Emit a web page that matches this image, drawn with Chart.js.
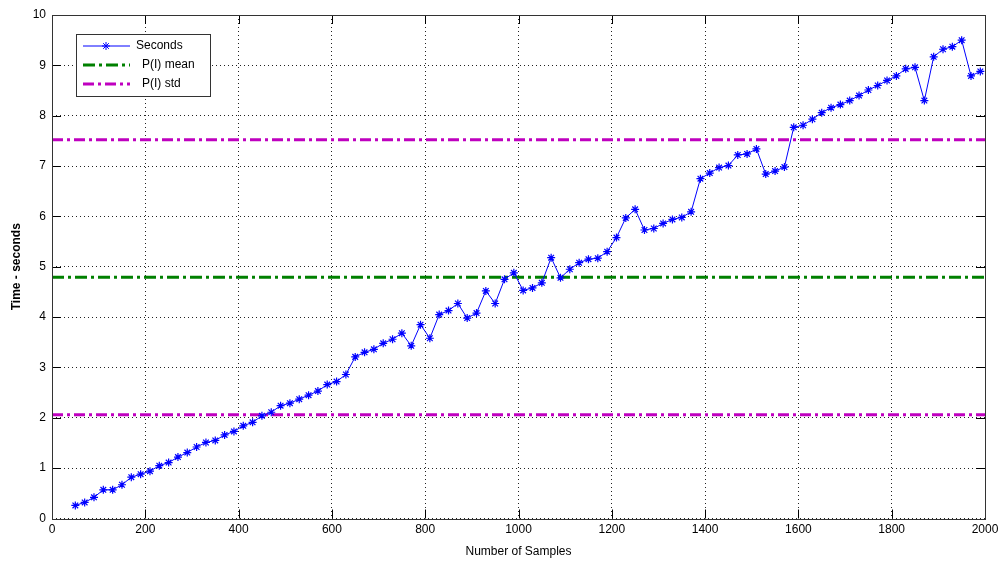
<!DOCTYPE html>
<html>
<head>
<meta charset="utf-8">
<title>Time vs number of samples</title>
<script src="https://cdn.jsdelivr.net/npm/chart.js@4.4.1/dist/chart.umd.min.js"></script>
<style>
  html, body { margin: 0; padding: 0; background: #fff; }
  #wrap { width: 1003px; height: 563px; }
</style>
</head>
<body>
<div id="wrap"><canvas id="timeChart" width="1003" height="563"></canvas></div>
<script>
// sample counts (x) and measured run time in seconds (y)
const sampleCounts = [
    50, 70, 90, 110, 130, 150, 170, 190, 210, 230,
    250, 270, 290, 310, 330, 350, 370, 390, 410, 430,
    450, 470, 490, 510, 530, 550, 570, 590, 610, 630,
    650, 670, 690, 710, 730, 750, 770, 790, 810, 830,
    850, 870, 890, 910, 930, 950, 970, 990, 1010, 1030,
    1050, 1070, 1090, 1110, 1130, 1150, 1170, 1190, 1210, 1230,
    1250, 1270, 1290, 1310, 1330, 1350, 1370, 1390, 1410, 1430,
    1450, 1470, 1490, 1510, 1530, 1550, 1570, 1590, 1610, 1630,
    1650, 1670, 1690, 1710, 1730, 1750, 1770, 1790, 1810, 1830,
    1850, 1870, 1890, 1910, 1930, 1950, 1970, 1990
];
const seconds = [
    0.26, 0.32, 0.42, 0.57, 0.57, 0.67, 0.82, 0.88, 0.94, 1.05,
    1.11, 1.22, 1.31, 1.42, 1.51, 1.55, 1.66, 1.73, 1.84, 1.91,
    2.04, 2.11, 2.24, 2.29, 2.37, 2.45, 2.53, 2.66, 2.72, 2.86,
    3.21, 3.30, 3.36, 3.48, 3.56, 3.68, 3.43, 3.85, 3.58, 4.05,
    4.13, 4.27, 3.98, 4.08, 4.52, 4.27, 4.75, 4.88, 4.53, 4.58,
    4.68, 5.18, 4.78, 4.95, 5.08, 5.15, 5.17, 5.30, 5.58, 5.97,
    6.14, 5.73, 5.76, 5.86, 5.94, 5.98, 6.09, 6.75, 6.86, 6.97,
    7.01, 7.22, 7.24, 7.34, 6.84, 6.90, 6.98, 7.77, 7.81, 7.93,
    8.06, 8.16, 8.22, 8.30, 8.40, 8.51, 8.60, 8.70, 8.79, 8.93,
    8.96, 8.30, 9.17, 9.32, 9.37, 9.50, 8.79, 8.88
];
const meanLevel = 4.79;
const stdLevels = [2.06, 7.52];
const xRange = [0, 2000];
const yRange = [0, 10];
const legendLabels = ['Seconds', 'P(I) mean', 'P(I) std'];

const BLUE = '#0000ff';
const GREEN = '#008000';
const MAGENTA = '#bf00bf';
const FONT = '"Liberation Sans", Arial, sans-serif';

function hLine(y) {
    return xRange.map(x => ({ x: x, y: y }));
}

const datasets = [
    {
        label: legendLabels[0],
        data: sampleCounts.map((x, i) => ({ x: x, y: seconds[i] })),
        borderColor: BLUE,
        backgroundColor: BLUE,
        borderWidth: 1,
        pointStyle: 'star',
        pointRadius: 4,
        pointBorderWidth: 1.2,
        pointBorderColor: BLUE
    },
    {
        label: legendLabels[1],
        data: hLine(meanLevel),
        borderColor: GREEN,
        borderWidth: 3,
        borderDash: [12, 4, 3, 4],
        pointRadius: 0
    }
];
stdLevels.forEach((lvl, i) => {
    datasets.push({
        label: legendLabels[2],
        data: hLine(lvl),
        borderColor: MAGENTA,
        borderWidth: 3,
        borderDash: [11, 4, 3, 4],
        pointRadius: 0,
        hideInLegend: i > 0
    });
});

// box around the axes plus inward tick marks
const frame = {
    id: 'frame',
    afterDatasetsDraw(chart) {
        const { ctx, chartArea: a, scales } = chart;
        const len = 9;
        ctx.save();
        ctx.strokeStyle = '#000';
        ctx.lineWidth = 1;
        ctx.beginPath();
        scales.x.ticks.forEach(t => {
            const px = Math.round(scales.x.getPixelForValue(t.value)) + 0.5;
            ctx.moveTo(px, a.bottom); ctx.lineTo(px, a.bottom - len);
            ctx.moveTo(px, a.top); ctx.lineTo(px, a.top + len);
        });
        scales.y.ticks.forEach(t => {
            const py = Math.round(scales.y.getPixelForValue(t.value)) + 0.5;
            ctx.moveTo(a.left, py); ctx.lineTo(a.left + len, py);
            ctx.moveTo(a.right, py); ctx.lineTo(a.right - len, py);
        });
        ctx.stroke();
        ctx.strokeStyle = '#333';
        ctx.strokeRect(Math.round(a.left) + 0.5, Math.round(a.top) + 0.5,
            Math.round(a.right - a.left), Math.round(a.bottom - a.top));
        ctx.restore();
    }
};

// legend box in the upper left corner of the plot
const boxLegend = {
    id: 'boxLegend',
    afterDraw(chart) {
        const ctx = chart.ctx;
        const x0 = 76, y0 = 34, w = 134, h = 62;
        ctx.save();
        ctx.fillStyle = '#fff';
        ctx.fillRect(x0, y0, w, h);
        ctx.strokeStyle = '#333';
        ctx.lineWidth = 1;
        ctx.strokeRect(x0 + 0.5, y0 + 0.5, w, h);
        const rows = chart.data.datasets.filter(d => !d.hideInLegend);
        ctx.font = '12px ' + FONT;
        ctx.textBaseline = 'middle';
        ctx.fillStyle = '#000';
        rows.forEach((ds, i) => {
            const y = y0 + 12 + i * 19;
            ctx.strokeStyle = ds.borderColor;
            ctx.lineWidth = ds.borderWidth;
            ctx.setLineDash(ds.borderDash || []);
            ctx.beginPath();
            ctx.moveTo(83, y);
            ctx.lineTo(130, y);
            ctx.stroke();
            ctx.setLineDash([]);
            if (ds.pointStyle) {
                Chart.helpers.drawPoint(ctx, {
                    pointStyle: ds.pointStyle, radius: ds.pointRadius,
                    borderWidth: ds.pointBorderWidth
                }, 106, y);
            }
            ctx.fillText(ds.label, i === 0 ? 136 : 142, y);
        });
        ctx.restore();
    }
};

const ctx = document.getElementById('timeChart').getContext('2d');
new Chart(ctx, {
    type: 'line',
    data: { datasets: datasets },
    options: {
        responsive: false,
        animation: false,
        layout: { padding: { top: 15, right: 18, left: 0, bottom: 0 } },
        plugins: { legend: { display: false }, tooltip: { enabled: false } },
        scales: {
            x: {
                type: 'linear',
                min: xRange[0],
                max: xRange[1],
                ticks: {
                    stepSize: 200, color: '#000', padding: 4,
                    font: { family: FONT, size: 12 },
                    callback: v => String(v)
                },
                grid: { color: '#222', drawTicks: false, lineWidth: 1 },
                border: { display: false, dash: [1, 3] },
                title: { display: true, text: 'Number of Samples', color: '#000', padding: { top: 4 }, font: { family: FONT, size: 12 } },
                afterFit(scale) { scale.height = 44.5; }
            },
            y: {
                min: yRange[0],
                max: yRange[1],
                ticks: { stepSize: 1, color: '#000', padding: 6, font: { family: FONT, size: 12 } },
                grid: { color: '#222', drawTicks: false, lineWidth: 1 },
                border: { display: false, dash: [1, 3] },
                title: { display: true, text: 'Time - seconds', color: '#000', padding: { top: 9, bottom: 0 }, font: { family: FONT, size: 12, weight: 'bold' } },
                afterFit(scale) { scale.width = 52; }
            }
        }
    },
    plugins: [frame, boxLegend]
});
</script>
</body>
</html>
